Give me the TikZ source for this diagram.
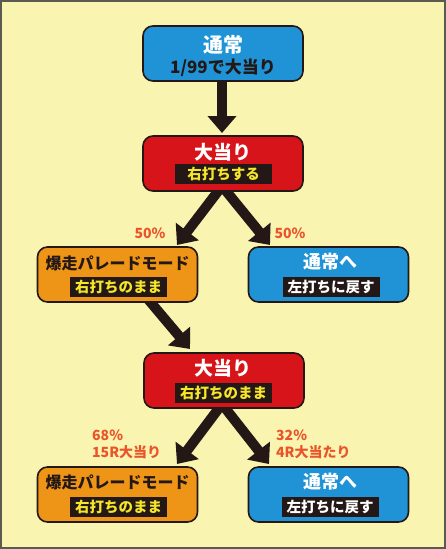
\documentclass[tikz,border=0pt]{standalone}
\usepackage{fontspec}
\setmainfont{Noto Sans CJK JP}
\usetikzlibrary{arrows.meta}
\definecolor{bg}{HTML}{F9F4B0}
\definecolor{frame}{HTML}{5A5A50}
\definecolor{edge}{HTML}{231815}
\definecolor{cblue}{HTML}{1F93D6}
\definecolor{cred}{HTML}{D7141A}
\definecolor{corange}{HTML}{EE9517}
\definecolor{cyel}{HTML}{F5E62A}
\definecolor{cpct}{HTML}{E9542A}
\tikzset{
  box/.style={draw=edge, line width=1.6pt, rounded corners=10pt, minimum width=160pt, minimum height=55pt, inner sep=0pt},
  ttl/.style={font=\bfseries\fontsize{19}{19}\selectfont, inner sep=0pt},
  lab/.style={fill=edge, text=cyel, font=\bfseries\fontsize{14.5}{14.5}\selectfont, minimum width=97pt, minimum height=20pt, inner sep=0pt},
  big/.style={draw=edge, line width=10pt, -{Triangle[width=28pt,length=17pt]}},
  pct/.style={text=cpct, font=\bfseries\fontsize{14}{17}\selectfont, inner sep=0pt, align=left}
}
\begin{document}
\begin{tikzpicture}[x=1pt,y=-1pt]
\useasboundingbox (0,0) rectangle (446,549);
\draw[fill=bg, draw=frame, line width=1.5pt] (1,1) rectangle (445,548);
% anchor coordinates
\coordinate (a1) at (222,80);
\coordinate (v1) at (222,186);
\coordinate (a2) at (147,298);
\coordinate (v2) at (222,404);
\coordinate (t1) at (222,133);
\coordinate (tl1) at (177,245);
\coordinate (tr1) at (270,245);
\coordinate (t2) at (190,349);
\coordinate (tl2) at (177,464);
\coordinate (tr2) at (269,464);
% arrows
\draw[big] (a1) -- (t1);
\draw[big] (v1) -- (tl1);
\draw[big] (v1) -- (tr1);
\draw[big] (a2) -- (t2);
\draw[big] (v2) -- (tl2);
\draw[big] (v2) -- (tr2);
% boxes
\node[box, fill=cblue] (b1) at (223,53.5) {};
\node[ttl, text=white, font=\bfseries\fontsize{20}{20}\selectfont] (b1t) at (223,45) {通常};
\node[ttl, text=edge, font=\bfseries\fontsize{17}{17}\selectfont] (b1s) at (223,68) {1/99で大当り};

\node[box, fill=cred] (b2) at (223,163.5) {};
\node[ttl, text=white] (b2t) at (223,152) {大当り};
\node[lab] (b2l) at (223.5,174) {右打ちする};

\node[box, fill=corange] (b3) at (117.5,274.5) {};
\node[ttl, text=edge, font=\bfseries\fontsize{16}{16}\selectfont] (b3t) at (117.5,263) {爆走パレードモード};
\node[lab] (b3l) at (118.5,287) {右打ちのまま};

\node[box, fill=cblue] (b4) at (328.5,274.5) {};
\node[ttl, text=white, font=\bfseries\fontsize{18}{18}\selectfont] (b4t) at (330,262) {通常へ};
\node[lab, text=white] (b4l) at (331,287) {左打ちに戻す};

\node[box, fill=cred] (b5) at (224,380.5) {};
\node[ttl, text=white] (b5t) at (223,368) {大当り};
\node[lab] (b5l) at (223.5,393) {右打ちのまま};

\node[box, fill=corange] (b6) at (117.5,494.5) {};
\node[ttl, text=edge, font=\bfseries\fontsize{16}{16}\selectfont] (b6t) at (117.5,482) {爆走パレードモード};
\node[lab] (b6l) at (118.5,507) {右打ちのまま};

\node[box, fill=cblue] (b7) at (328.5,494.5) {};
\node[ttl, text=white, font=\bfseries\fontsize{18}{18}\selectfont] (b7t) at (330,482) {通常へ};
\node[lab, text=white] (b7l) at (330,507) {左打ちに戻す};
% percentages
\node[pct] (p1) at (150,233) {50\%};
\node[pct] (p2) at (290,233) {50\%};
\node[pct, anchor=west] (p3) at (92,444.5) {68\%\\15R大当り};
\node[pct, anchor=west] (p4) at (276,444.5) {32\%\\4R大当たり};
\end{tikzpicture}
\end{document}
